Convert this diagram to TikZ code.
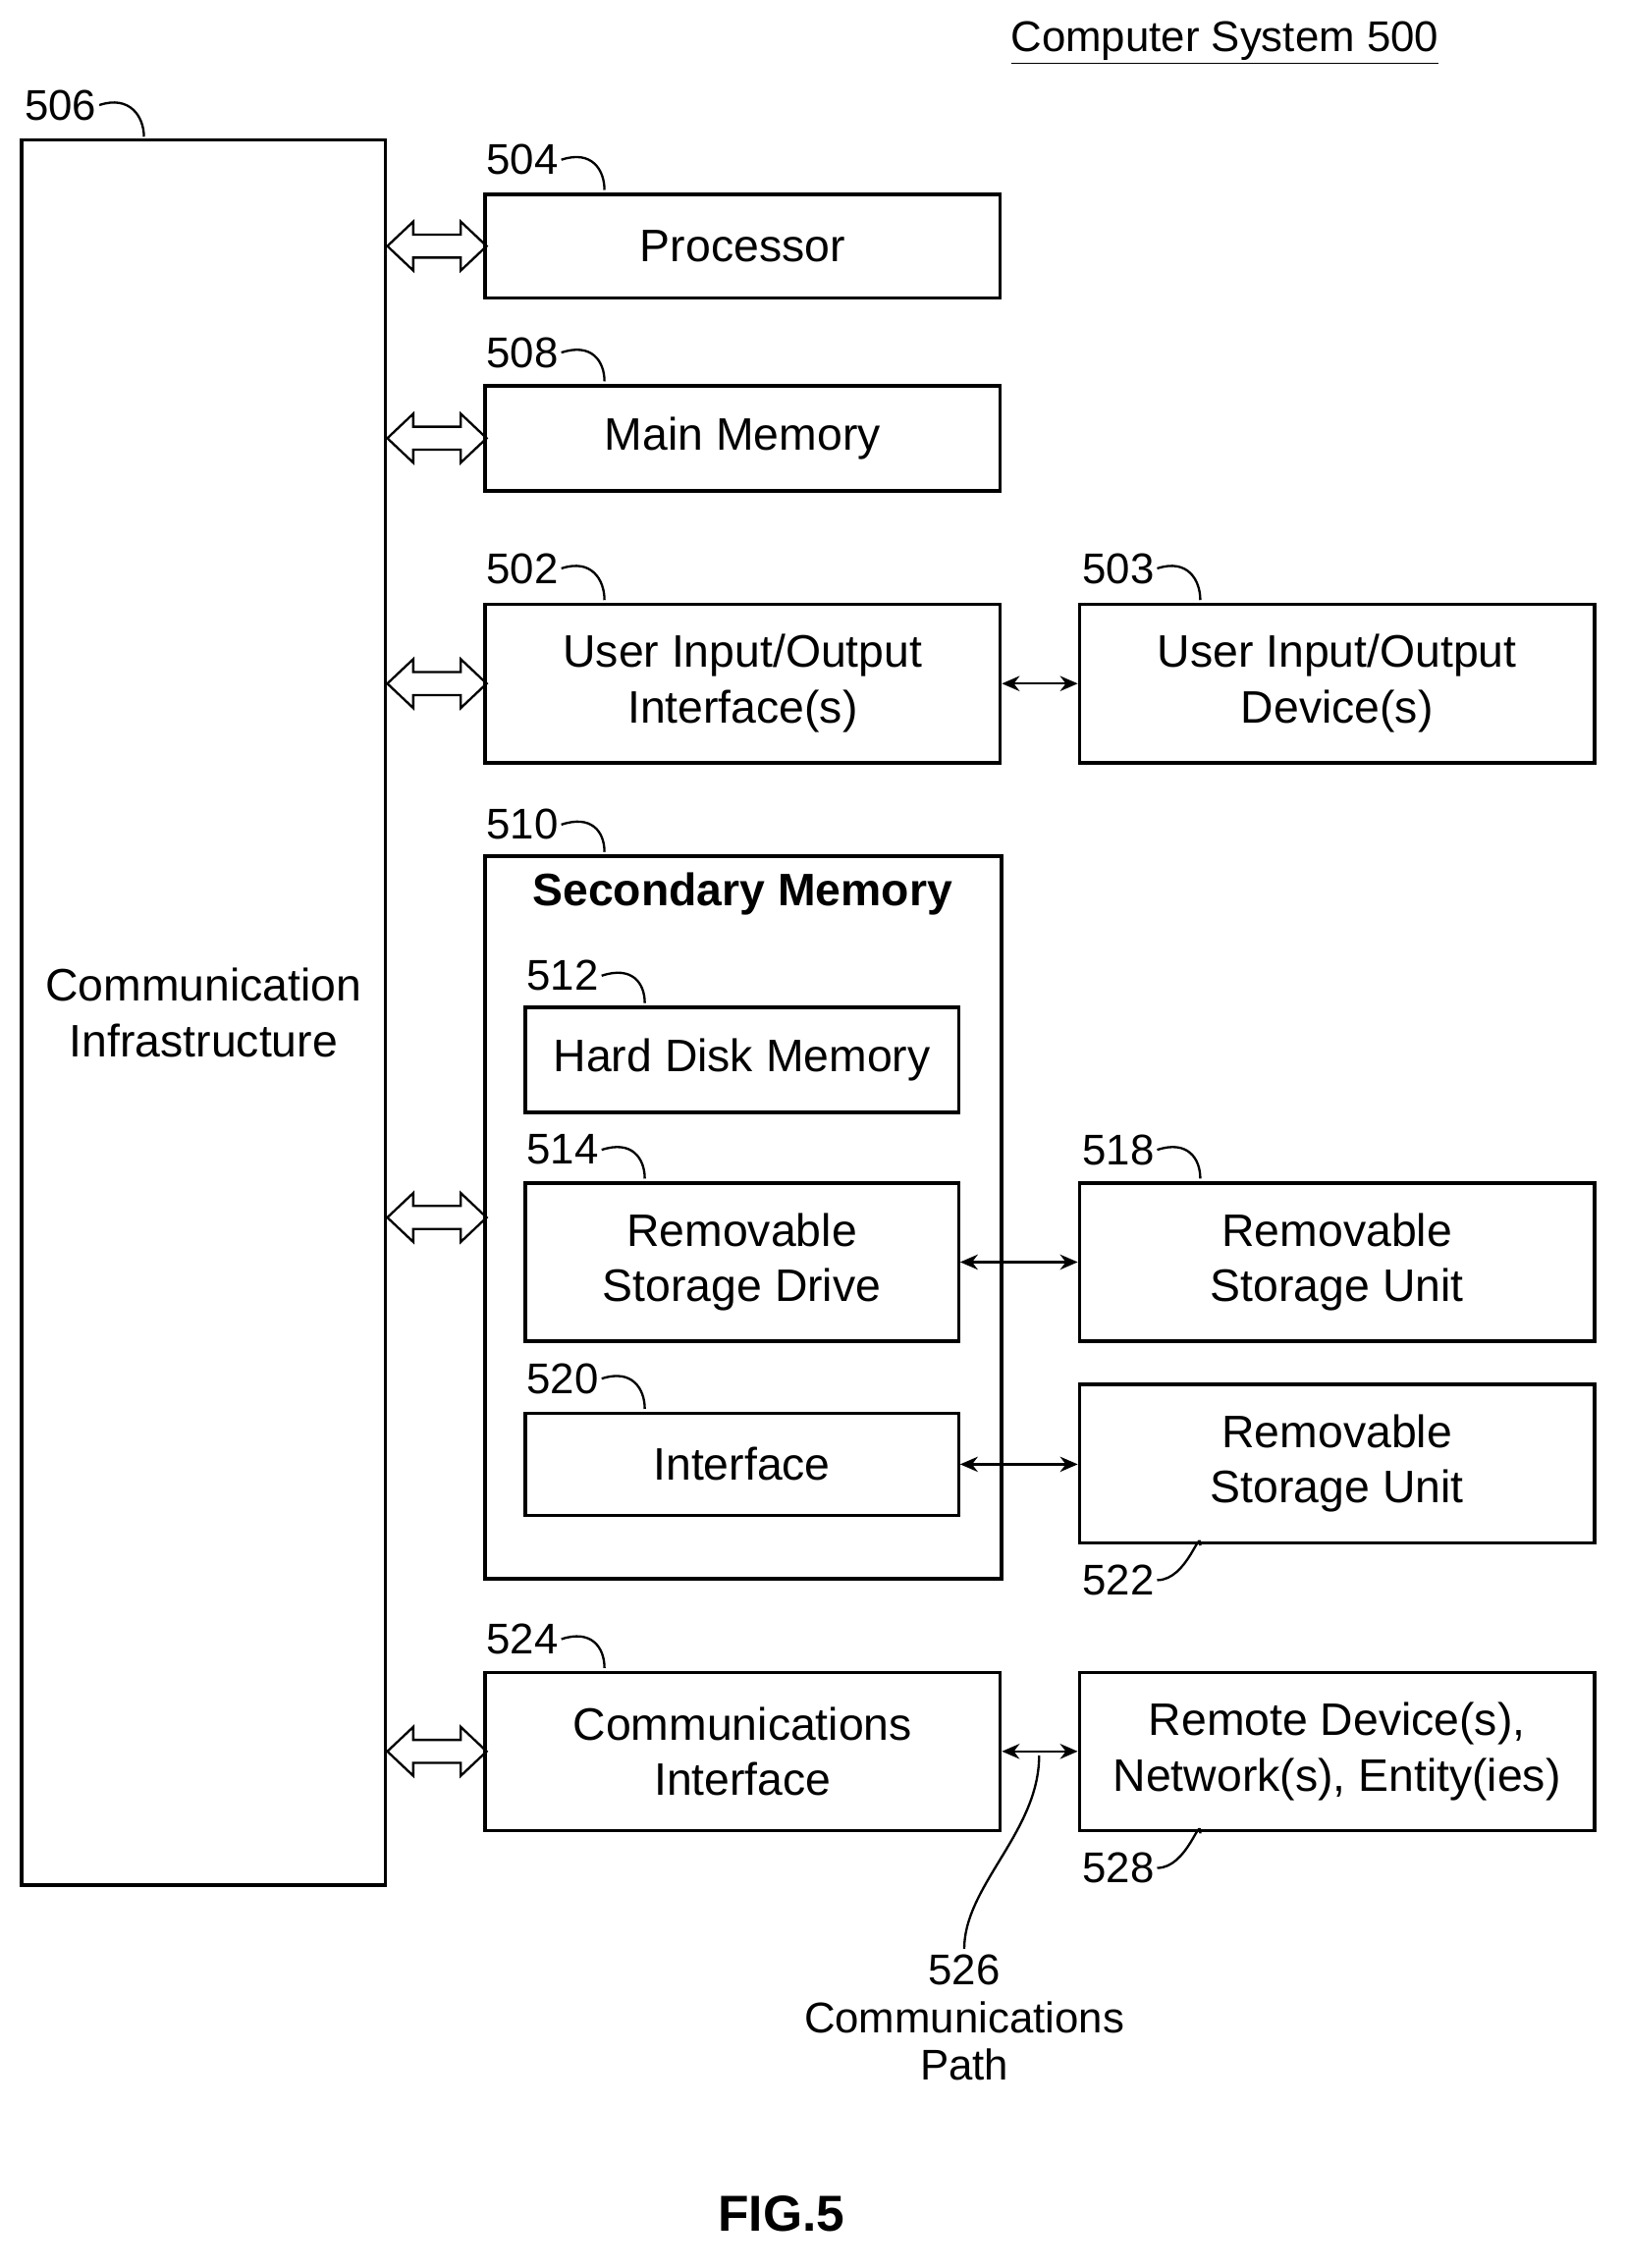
\documentclass[tikz,border=0pt]{standalone}
\usepackage{fontspec}
\setmainfont{Liberation Sans}
\usetikzlibrary{fit,arrows.meta}
\tikzset{
  box/.style={draw,line width=1.3pt,inner sep=0pt},
  txt/.style={align=center,font=\fontsize{18}{22}\selectfont},
  num/.style={font=\fontsize{17}{20}\selectfont,inner sep=1pt},
  bus/.style={line width=0.9pt,line join=miter},
  link/.style={line width=0.9pt,{Stealth[length=7pt,width=6pt]}-{Stealth[length=7pt,width=6pt]}},
  lead/.style={line width=0.9pt}
}
\newcommand{\refnum}[4]{% name, position, text, corner
  \node[num] (#1) at #2 {#3};
  \draw[lead] (#1.east) .. controls +(12pt,4pt) and +(0pt,8pt) .. #4;
}
\begin{document}
\begin{tikzpicture}[x=0.02cm,y=-0.02cm]
\useasboundingbox (0,0) rectangle (1130,1576);

\node[box,fit={(15,97) (268,1310)}] (infra) {};
\node[txt] at (infra) {Communication\\Infrastructure};
\node[box,fit={(337,135) (695,207)}] (proc) {};
\node[txt] at (proc) {Processor};
\node[box,fit={(337,268) (695,341)}] (mem) {};
\node[txt] at (mem) {Main Memory};
\node[box,fit={(337,420) (695,530)}] (uif) {};
\node[txt] at (uif) {User Input/Output\\Interface(s)};
\node[box,fit={(750,420) (1108,530)}] (udev) {};
\node[txt] at (udev) {User Input/Output\\Device(s)};
\node[box,fit={(337,595) (696,1097)}] (sec) {};
\node[txt,font=\bfseries\fontsize{18}{22}\selectfont] (sectitle) at (516,621) {Secondary Memory};
\node[box,fit={(365,700) (666,773)}] (hdd) {};
\node[txt] at (hdd) {Hard Disk Memory};
\node[box,fit={(365,822) (666,932)}] (drive) {};
\node[txt] at (drive) {Removable\\Storage Drive};
\node[box,fit={(365,982) (666,1053)}] (iface) {};
\node[txt] at (iface) {Interface};
\node[box,fit={(750,822) (1108,932)}] (unita) {};
\node[txt] at (unita) {Removable\\Storage Unit};
\node[box,fit={(750,962) (1108,1072)}] (unitb) {};
\node[txt] at (unitb) {Removable\\Storage Unit};
\node[box,fit={(337,1162) (695,1272)}] (comm) {};
\node[txt] at (comm) {Communications\\Interface};
\node[box,fit={(750,1162) (1108,1272)}] (remote) {};
\node[txt] at (remote) {Remote Device(s),\\Network(s), Entity(ies)};

% bus connections (hollow double arrows)
\foreach \n in {proc,mem,uif,sec,comm}
  \draw[bus] (infra.east |- \n.west) -- ++(18,-17) -- ++(0,9) -- ++(33,0)
    -- ++(0,-9) -- ++(18,17) -- ++(-18,17) -- ++(0,-9) -- ++(-33,0)
    -- ++(0,9) -- cycle;

\draw[link] (uif) -- (udev);
\draw[link] (drive) -- (unita);
\draw[link] (iface.east) -- (unitb.west |- iface.east);
\draw[link] (comm) -- (remote);

% reference numerals
\refnum{n506}{(42,73)}{506}{(100,95)}
\refnum{n504}{(363,111)}{504}{(420,132)}
\refnum{n508}{(363,245)}{508}{(420,265)}
\refnum{n502}{(363,395)}{502}{(420,417)}
\refnum{n503}{(777,395)}{503}{(834,417)}
\refnum{n510}{(363,573)}{510}{(420,592)}
\refnum{n512}{(391,678)}{512}{(448,697)}
\refnum{n514}{(391,799)}{514}{(448,819)}
\refnum{n518}{(777,799)}{518}{(834,819)}
\refnum{n520}{(391,958)}{520}{(448,979)}
\refnum{n524}{(363,1139)}{524}{(420,1159)}
\node[num] (n522) at (777,1098) {522};
\draw[lead] (n522.east) .. controls +(12pt,0pt) and +(0pt,8pt) .. (834,1074);
\node[num] (n528) at (777,1298) {528};
\draw[lead] (n528.east) .. controls +(12pt,0pt) and +(0pt,8pt) .. (834,1274);

\node[num,align=center,font=\fontsize{17}{19}\selectfont] (n526) at (670,1402) {526\\Communications\\Path};
\coordinate (pathpt) at (722,1220);
\draw[lead] ([yshift=1pt]n526.north) .. controls +(0,25pt) and +(0,-30pt) .. (pathpt);

\node[font=\fontsize{17}{20}\selectfont] (title) at (851,30) {\underline{Computer System 500}};
\node[font=\bfseries\fontsize{20}{24}\selectfont] (fig) at (543,1538) {FIG.5};
\end{tikzpicture}
\end{document}
